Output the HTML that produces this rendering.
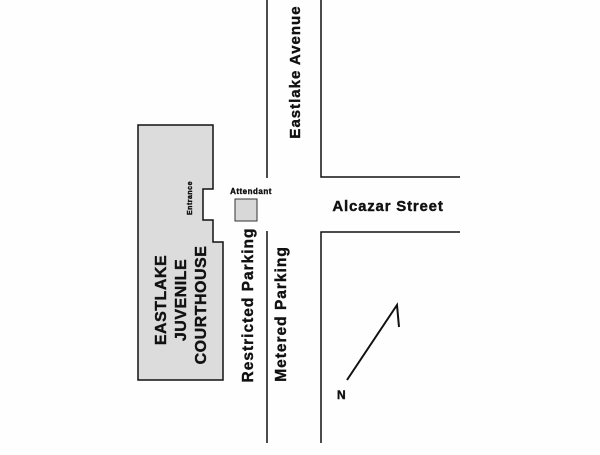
<!DOCTYPE html>
<html><head><style>
body{margin:0;background:#fff}
svg text{font-family:"Liberation Sans",Arial,sans-serif;font-weight:bold;fill:#111;stroke:#111;stroke-width:0.4}
</style></head><body>
<svg width="600" height="450" viewBox="0 0 600 450" xmlns="http://www.w3.org/2000/svg">
<rect width="600" height="450" fill="#fefefe"/>
<polygon points="138,125 213,125 213,189 203,189 203,220 213,220 213,242 223,242 223,380 138,380" fill="#dcdcdc" stroke="#111" stroke-width="1.5"/>
<rect x="235" y="199" width="22" height="22" fill="#d8d8d8" stroke="#333" stroke-width="1"/>
<g stroke="#111" stroke-width="1.5" fill="none">
<line x1="267" y1="0" x2="267" y2="178"/>
<line x1="267" y1="231" x2="267" y2="443"/>
<polyline points="321,0 321,177 460,177"/>
<polyline points="460,232 321,232 321,443"/>
<polyline points="347,380 397,305 399,327" stroke-width="2"/>
</g>
<text x="388" y="211" font-size="15" text-anchor="middle" letter-spacing="0.8">Alcazar Street</text>
<text transform="translate(300,72) rotate(-90)" font-size="15" text-anchor="middle" letter-spacing="1">Eastlake Avenue</text>
<text transform="translate(253,305) rotate(-90)" font-size="15.5" text-anchor="middle" letter-spacing="1">Restricted Parking</text>
<text transform="translate(286,314) rotate(-90)" font-size="15.5" text-anchor="middle" letter-spacing="1">Metered Parking</text>
<text transform="translate(166,300) rotate(-90)" font-size="16" text-anchor="middle" letter-spacing="0.5">EASTLAKE</text>
<text transform="translate(186,300) rotate(-90)" font-size="16" text-anchor="middle" letter-spacing="0.5">JUVENILE</text>
<text transform="translate(206,305) rotate(-90)" font-size="16" text-anchor="middle" letter-spacing="0.5">COURTHOUSE</text>
<text transform="translate(192,198) rotate(-90)" font-size="7" text-anchor="middle" letter-spacing="0.5">Entrance</text>
<text x="251" y="194" font-size="8" text-anchor="middle" letter-spacing="0.5">Attendant</text>
<text x="337" y="399" font-size="12">N</text>
</svg>
</body></html>
